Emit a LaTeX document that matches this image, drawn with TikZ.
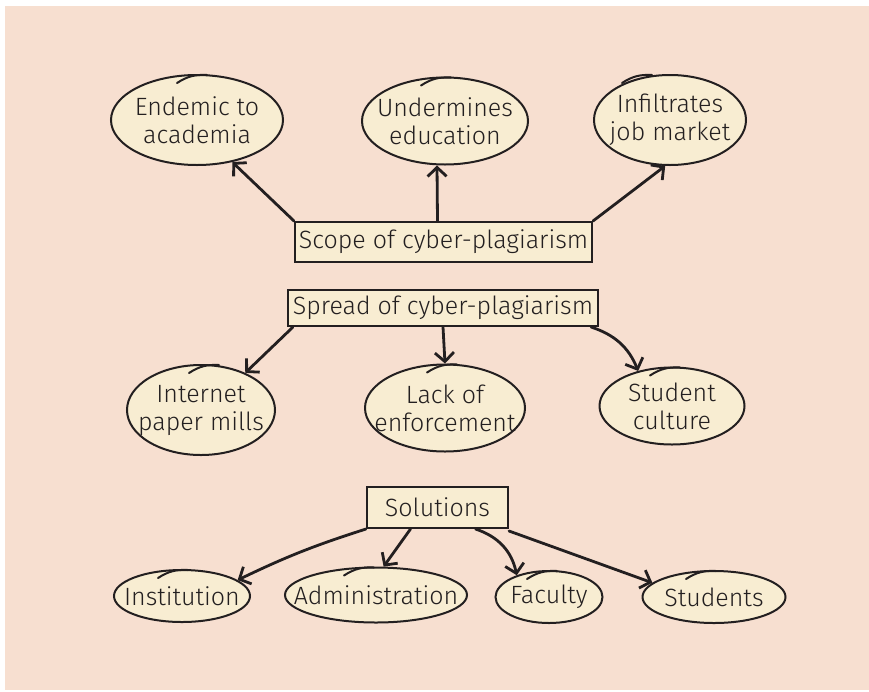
\documentclass[tikz,border=0pt]{standalone}
\usepackage{fontspec}
\setmainfont{Fira Sans Light}
\usetikzlibrary{shapes.geometric,arrows.meta,calc}
\definecolor{peach}{HTML}{F7DFD0}
\definecolor{creamc}{HTML}{F8EDD2}
\definecolor{inkc}{HTML}{231F20}
\tikzset{
  ink/.style={draw=inkc, line width=2pt},
  % the outline size is fixed by minimum width/height, not by the text
  cloudbox/.style={ellipse, ink, fill=creamc, inner xsep=-30pt, inner ysep=-20pt,
    align=center, text=inkc, font=\fontsize{25}{28}\selectfont},
  tagbox/.style={rectangle, ink, fill=creamc, inner sep=0pt,
    text=inkc, font=\fontsize{25}{28}\selectfont},
  link/.style={draw=inkc, line width=2.8pt, line cap=round,
    -{Straight Barb[length=9pt,width=19pt]}},
  tick/.style={draw=inkc, line width=2pt, line cap=round}
}
\begin{document}
\begin{tikzpicture}[x=1pt,y=-1pt]
\useasboundingbox (0,0) rectangle (869,691);
\fill[peach] (5,6) rectangle (869,690);

% scope of cyber-plagiarism
\node[cloudbox, minimum width=172, minimum height=90] (endemic) at (197,120) {Endemic to\\academia};
\node[cloudbox, minimum width=166, minimum height=87] (undermines) at (445,121) {Undermines\\education};
\node[cloudbox, minimum width=152, minimum height=90] (infiltrates) at (670,120) {Infiltrates\\job market};
\node[tagbox, minimum width=297, minimum height=40] (scope) at (443.5,242) {Scope of cyber-plagiarism};

% spread of cyber-plagiarism
\node[tagbox, minimum width=310, minimum height=36] (spread) at (443,308) {Spread of cyber-plagiarism};
\node[cloudbox, minimum width=148, minimum height=90] (mills) at (201,410) {Internet\\paper mills};
\node[cloudbox, minimum width=160, minimum height=87] (lack) at (445,408) {Lack of\\enforcement};
\node[cloudbox, minimum width=145, minimum height=77] (culture) at (672,406) {Student\\culture};

% solutions
\node[tagbox, minimum width=141, minimum height=41] (solutions) at (437.5,507.5) {Solutions};
\node[cloudbox, minimum width=136, minimum height=52] (institution) at (182,596) {Institution};
\node[cloudbox, minimum width=182, minimum height=55] (administration) at (376,595) {Administration};
\node[cloudbox, minimum width=107, minimum height=52] (faculty) at (549,597) {Faculty};
\node[cloudbox, minimum width=143, minimum height=52] (students) at (714,597) {Students};

% pen overlap strokes on the cloud outlines
\foreach \n/\dx in {endemic/-20, undermines/-24, infiltrates/-48, mills/-12, lack/-18, culture/-22,
                    institution/-24, administration/-32, faculty/-22, students/-28} {
  \draw[tick] ($(\n.north)+(\dx,9)$) to[bend left=18] ($(\n.north)+(\dx+30,1)$);
}

% connectors
\draw[link] (scope.north west) -- (endemic.-50);
\draw[link] ([xshift=-6pt]scope.north) -- ([xshift=-8pt]undermines.south);
\draw[link] (scope.north east) -- (infiltrates.-96);

\draw[link] ([xshift=6pt]spread.south west) -- (mills.40);
\draw[link] (spread.south) -- (lack.north);
\draw[link] ([xshift=-8pt]spread.south east) to[bend left=25] (culture.134);

\draw[link] (solutions.south west) to[bend right=4] (institution.16);
\draw[link] ([xshift=-27pt]solutions.south) -- (administration.75);
\draw[link] ([xshift=38pt]solutions.south) to[bend left=30] (faculty.146);
\draw[link] ([yshift=-2pt]solutions.south east) -- (students.167);
\end{tikzpicture}
\end{document}
